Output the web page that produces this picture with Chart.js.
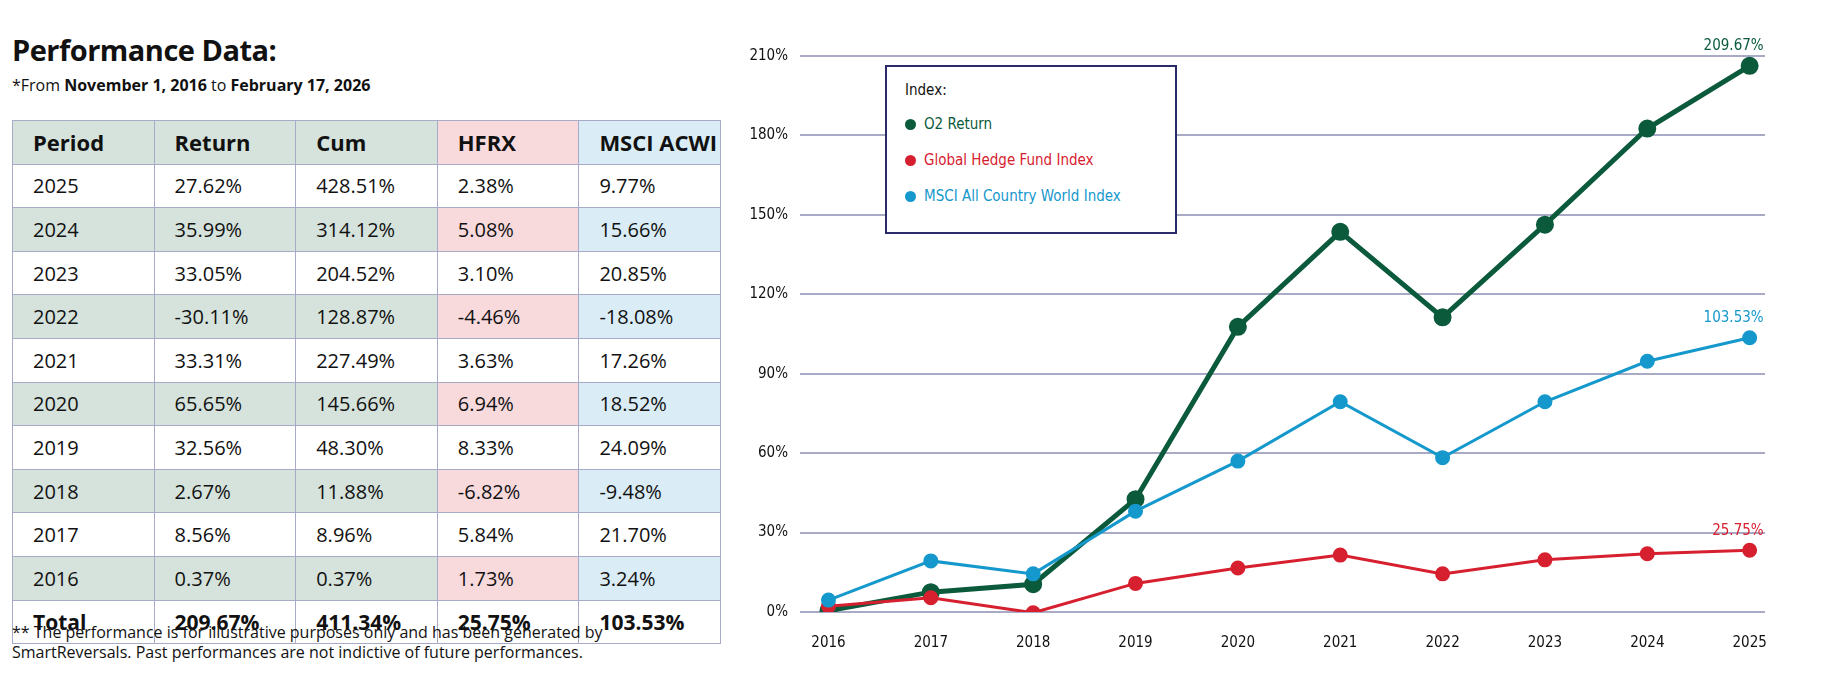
<!DOCTYPE html>
<html><head><meta charset="utf-8">
<script src="https://cdn.jsdelivr.net/npm/chart.js@4"></script>
<style>
body{margin:0;width:1838px;height:695px;background:#fff;position:relative;overflow:hidden;font-family:"Open Sans",sans-serif;}
#title{position:absolute;left:12px;top:30px;font-size:29px;font-weight:bold;color:#111;letter-spacing:-0.5px}
#sub{position:absolute;left:12px;top:74px;font-size:16px;color:#111}
table{position:absolute;left:12px;top:120px;border-collapse:collapse;width:709px;font-size:20px;color:#111}
td{border:1.5px solid #a7abc8;height:42.6px;padding:0 0 0 20px;width:117px}
tr.h td{font-weight:bold;font-size:22px}
tr.s td{background:#d5e3dc}
tr.s td.hf{background:#f8dadd}
tr.s td.ms{background:#daedf6}
tr.t td{font-weight:bold;font-size:21px}
#foot{position:absolute;left:12px;top:622px;font-size:16px;line-height:20px;color:#111}
#cw{position:absolute;left:700px;top:0;width:1138px;height:695px}
#leg{position:absolute;left:885px;top:65px;width:288px;height:165px;border:2px solid #2a2a6a;background:#fff;font-family:"DejaVu Sans Condensed","DejaVu Sans",sans-serif;font-size:15px}
#leg div{position:absolute;left:18px}
#leg span.d{display:inline-block;width:11px;height:11px;border-radius:50%;margin-right:8px;vertical-align:-1px}
</style></head><body>
<div id="title">Performance Data:</div>
<div id="sub">*From <b>November 1, 2016</b> to <b>February 17, 2026</b></div>
<table id="tbl"></table>
<div id="foot">** The performance is for illustrative purposes only and has been generated by<br>SmartReversals. Past performances are not indictive of future performances.</div>
<div id="cw"><canvas id="c"></canvas></div>
<div id="leg">
<div style="top:14px;color:#111">Index:</div>
<div style="top:48px;color:#0b5a3c"><span class="d" style="background:#0b5a3c"></span>O2 Return</div>
<div style="top:84px;color:#d7202f"><span class="d" style="background:#d7202f"></span>Global Hedge Fund Index</div>
<div style="top:120px;color:#1598cc"><span class="d" style="background:#1598cc"></span>MSCI All Country World Index</div>
</div>
<script>
const headers=["Period","Return","Cum","HFRX","MSCI ACWI"];
const periods=["2025","2024","2023","2022","2021","2020","2019","2018","2017","2016","Total"];
const returns=["27.62%","35.99%","33.05%","-30.11%","33.31%","65.65%","32.56%","2.67%","8.56%","0.37%","209.67%"];
const cums=["428.51%","314.12%","204.52%","128.87%","227.49%","145.66%","48.30%","11.88%","8.96%","0.37%","411.34%"];
const hfrx=["2.38%","5.08%","3.10%","-4.46%","3.63%","6.94%","8.33%","-6.82%","5.84%","1.73%","25.75%"];
const msci=["9.77%","15.66%","20.85%","-18.08%","17.26%","18.52%","24.09%","-9.48%","21.70%","3.24%","103.53%"];

const years=["2016","2017","2018","2019","2020","2021","2022","2023","2024","2025"];
const o2=[0.5,7.5,10.5,42.6,107.7,143.6,111.3,146.3,182.6,206.3];
const hf=[2.2,5.4,-0.3,10.8,16.6,21.5,14.4,19.7,22.0,23.3];
const ms=[4.5,19.3,14.4,38.1,57.0,79.4,58.3,79.4,94.7,103.6];
const endLabels=["209.67%","25.75%","103.53%"];
const yTicks=[0,30,60,90,120,150,180,210];

let h='<tr class="h s">'+headers.map((x,i)=>`<td class="${i==3?'hf':i==4?'ms':''}">${x}</td>`).join('')+'</tr>';
periods.forEach((p,i)=>{
  const cls=(i==10?'t':(i%2==1?'s':''));
  const cells=[p,returns[i],cums[i],hfrx[i],msci[i]];
  h+=`<tr class="${cls}">`+cells.map((x,j)=>`<td class="${j==3?'hf':j==4?'ms':''}">${x}</td>`).join('')+'</tr>';
});
document.getElementById('tbl').innerHTML=h;

const F='"DejaVu Sans Condensed","DejaVu Sans",sans-serif';
const colors=["#0b5a3c","#d7202f","#1598cc"];
const mk=(arr)=>arr.map((v,i)=>({x:i,y:v}));
const endPlug={id:'endl',afterDatasetsDraw(ch){
  const c=ch.ctx;c.save();c.font='15px '+F;c.textAlign='right';c.textBaseline='bottom';
  ch.data.datasets.forEach((d,i)=>{const m=ch.getDatasetMeta(i).data;const p=m[m.length-1];
    c.fillStyle=colors[d.ci];c.fillText(endLabels[d.ci],p.x+14,p.y-12);});
  c.restore();}};
new Chart(document.getElementById('c'),{
 type:'line',
 data:{datasets:[
  {data:mk(ms),ci:2,borderColor:colors[2],backgroundColor:colors[2],borderWidth:3,pointRadius:6,pointHoverRadius:6},
  {data:mk(hf),ci:1,borderColor:colors[1],backgroundColor:colors[1],borderWidth:3,pointRadius:6,pointHoverRadius:6},
  {data:mk(o2),ci:0,borderColor:colors[0],backgroundColor:colors[0],borderWidth:5,pointRadius:6.5,pointHoverRadius:6.5}
 ]},
 options:{responsive:true,maintainAspectRatio:false,animation:false,
  layout:{padding:{left:0,right:73,top:56,bottom:30}},
  plugins:{legend:{display:false},tooltip:{enabled:false}},
  scales:{
   x:{type:'linear',min:-0.2,max:9.15,grid:{display:false},border:{display:false},
      afterBuildTicks:s=>{s.ticks=years.map((y,i)=>({value:i}));},
      afterFit:s=>{s.height=53;},
      ticks:{callback:v=>years[v],font:{family:F,size:15},color:'#111',padding:14}},
   y:{min:0,max:210,grid:{color:'#a9aac6',lineWidth:2},border:{display:false},
      afterBuildTicks:s=>{s.ticks=yTicks.map(v=>({value:v}));},
      afterFit:s=>{s.width=108;},
      ticks:{callback:v=>v+'%',font:{family:F,size:15},color:'#111',padding:12}}
  }},
 plugins:[endPlug]});
</script></body></html>
